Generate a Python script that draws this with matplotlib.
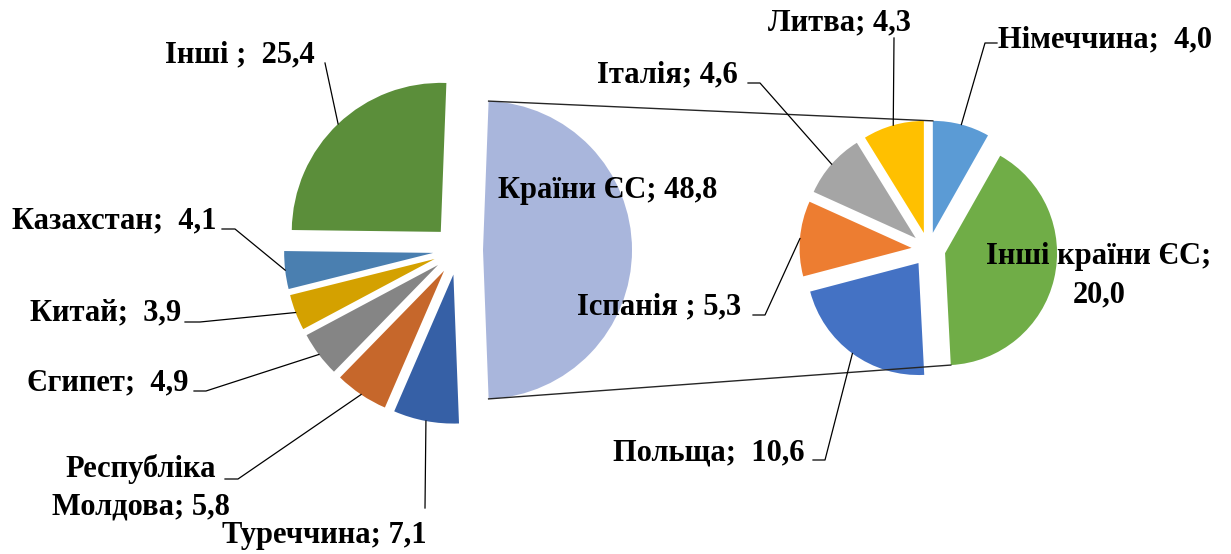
import math
import numpy as np
import matplotlib
matplotlib.use('Agg')
import matplotlib.pyplot as plt

W, H = 1231, 554

# ліва діаграма (усі країни)
main_names = ['Країни ЄС', 'Інші ', 'Казахстан', 'Китай', 'Єгипет', 'Республіка\nМолдова', 'Туреччина']
main_values = [48.8, 25.4, 4.1, 3.9, 4.9, 5.8, 7.1]
main_colors = ['#a9b6dc', '#5b8e3a', '#4a7fb0', '#d4a100', '#858585', '#c6672b', '#3660a6']

# права діаграма (розбивка країн ЄС)
eu_names = ['Німеччина', 'Інші країни ЄС', 'Польща', 'Іспанія ', 'Італія', 'Литва']
eu_values = [4.0, 20.0, 10.6, 5.3, 4.6, 4.3]
eu_colors = ['#5b9bd5', '#70ad47', '#4472c4', '#ed7d31', '#a5a5a5', '#ffc000']

main_seps = [' ', '  ', '  ', '  ', '  ', ' ', ' ']
eu_seps = ['  ', '\n', '  ', ' ', ' ', ' ']

# розміщення підписів (пікселі зверху вниз): x, базова лінія (останній рядок), ha, точки виноски
main_layout = [
    (498, 198, 'left', None),
    (165, 62, 'left', [(325, 63)]),
    (12, 228, 'left', [(222, 229), (235, 229)]),
    (30, 320, 'left', [(185, 322), (200, 322)]),
    (27, 390, 'left', [(194, 391), (206, 391)]),
    (141, 515, 'center', [(225, 479), (238, 479)]),
    (222, 543, 'left', [(425, 508)]),
]
eu_layout = [
    (998, 47, 'left', [(997, 43), (985, 43)]),
    (1099, 302, 'center', None),
    (613, 460, 'left', [(813, 460), (825, 460)]),
    (577, 314, 'left', [(753, 315), (765, 315)]),
    (597, 82, 'left', [(748, 83), (760, 83)]),
    (768, 30, 'left', [(894, 38)]),
]


def fmt(name, sep, v):
    return name + ';' + sep + ('%.1f' % v).replace('.', ',')


def arc_point(w):
    a = math.radians((w.theta1 + w.theta2) / 2)
    return (w.center[0] + w.r * math.cos(a), w.center[1] + w.r * math.sin(a))


plt.rcParams['font.family'] = ['Liberation Serif', 'DejaVu Serif']
fig = plt.figure(figsize=(W / 100, H / 100), dpi=100)
ax = fig.add_axes([0, 0, 1, 1])

r1, r2 = 149, 112
start1 = -main_values[0] / sum(main_values) * 180
w1, _ = ax.pie(main_values, colors=main_colors, radius=r1, center=(458, H - 250),
               startangle=start1, counterclock=True, explode=[25] * len(main_values),
               wedgeprops=dict(linewidth=0))
w2, _ = ax.pie(eu_values, colors=eu_colors, radius=r2, center=(928.5, H - 249.3),
               startangle=90, counterclock=False, explode=[17] * len(eu_values),
               wedgeprops=dict(linewidth=0))

# лінії-з'єднувачі між діаграмами
eu = w1[0]
for ang_eu, wr, ang_r in [(eu.theta2, w2[0], 90), (eu.theta1, w2[1], w2[1].theta1)]:
    a = math.radians(ang_eu)
    p0 = (eu.center[0] + eu.r * math.cos(a), eu.center[1] + eu.r * math.sin(a))
    b = math.radians(ang_r)
    p1 = (wr.center[0] + wr.r * math.cos(b), wr.center[1] + wr.r * math.sin(b))
    ax.plot([p0[0], p1[0]], [p0[1], p1[1]], color='#262626', lw=1.0, zorder=1)

fs = 22
for wedges, names, vals, seps, layout in [(w1, main_names, main_values, main_seps, main_layout),
                                          (w2, eu_names, eu_values, eu_seps, eu_layout)]:
    for w, n, v, s, (x, yb, ha, pts) in zip(wedges, names, vals, seps, layout):
        ax.text(x, H - yb, fmt(n, s, v), ha=ha, va='baseline', fontsize=fs,
                fontweight='bold', color='black', multialignment='center',
                linespacing=1.42, zorder=5)
        if pts:
            xs = [p[0] for p in pts]
            ys = [H - p[1] for p in pts]
            ap = arc_point(w)
            xs.append(ap[0])
            ys.append(ap[1])
            ax.plot(xs, ys, color='black', lw=0.9, zorder=4)

ax.set_xlim(0, W)
ax.set_ylim(0, H)
ax.set_axis_off()
fig.savefig('out.png', dpi=100, facecolor='white')
